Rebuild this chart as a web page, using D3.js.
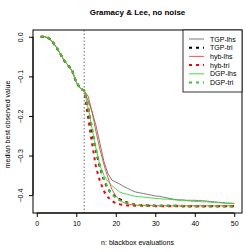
<!DOCTYPE html>
<html><head><meta charset="utf-8">
<script src="https://cdn.jsdelivr.net/npm/d3@7"></script>
<style>body{margin:0;background:#fff}svg{display:block}text{font-family:"Liberation Sans",Arial,sans-serif}</style>
</head><body><div id="chart"></div>
<script>
const n = d3.range(1, 51);
const tgpLhs = [0,0,-0.003,-0.013,-0.027,-0.044,-0.061,-0.073,-0.087,-0.115,-0.13,-0.136,
 -0.162,-0.19,-0.225,-0.27,-0.315,-0.345,-0.362,-0.367,-0.372,-0.378,-0.383,-0.388,-0.392,-0.394,-0.396,-0.398,-0.4,-0.402,
 -0.403,-0.405,-0.407,-0.409,-0.411,-0.412,-0.412,-0.413,-0.413,-0.413,-0.414,-0.414,-0.415,-0.416,-0.417,-0.418,-0.419,-0.42,-0.42,-0.421];
const tgpTri = [0,0,-0.003,-0.013,-0.027,-0.044,-0.061,-0.073,-0.087,-0.115,-0.13,-0.136,
 -0.18,-0.24,-0.29,-0.33,-0.362,-0.385,-0.396,-0.404,-0.41,-0.415,-0.419,-0.422,-0.424,-0.425,-0.425,-0.426,-0.426,-0.427,
 -0.427,-0.427,-0.427,-0.427,-0.427,-0.427,-0.428,-0.428,-0.428,-0.428,-0.428,-0.428,-0.428,-0.428,-0.428,-0.428,-0.428,-0.428,-0.428,-0.428];
const hybLhs = [0,0,-0.003,-0.013,-0.027,-0.044,-0.061,-0.073,-0.087,-0.115,-0.13,-0.136,
 -0.15,-0.19,-0.24,-0.285,-0.323,-0.355,-0.385,-0.402,-0.412,-0.419,-0.422,-0.424,-0.425,-0.426,-0.426,-0.426,-0.426,-0.427,
 -0.427,-0.427,-0.427,-0.427,-0.427,-0.427,-0.427,-0.427,-0.427,-0.427,-0.427,-0.427,-0.427,-0.427,-0.427,-0.427,-0.427,-0.427,-0.427,-0.427];
const hybTri = [0,0,-0.003,-0.013,-0.027,-0.044,-0.061,-0.073,-0.087,-0.115,-0.13,-0.136,
 -0.205,-0.27,-0.33,-0.365,-0.39,-0.405,-0.415,-0.42,-0.423,-0.425,-0.426,-0.426,-0.427,-0.427,-0.427,-0.427,-0.427,-0.428,
 -0.428,-0.428,-0.428,-0.428,-0.428,-0.428,-0.428,-0.428,-0.428,-0.428,-0.428,-0.428,-0.428,-0.428,-0.428,-0.428,-0.428,-0.428,-0.428,-0.428];
const dgpLhs = [0,0,-0.003,-0.013,-0.027,-0.044,-0.061,-0.073,-0.087,-0.115,-0.13,-0.136,
 -0.18,-0.232,-0.283,-0.325,-0.35,-0.365,-0.376,-0.384,-0.392,-0.396,-0.398,-0.401,-0.403,-0.404,-0.405,-0.406,-0.407,-0.408,
 -0.409,-0.41,-0.41,-0.411,-0.412,-0.413,-0.413,-0.414,-0.415,-0.416,-0.416,-0.417,-0.417,-0.418,-0.419,-0.419,-0.42,-0.421,-0.421,-0.422];
const dgpTri = [0,0,-0.003,-0.013,-0.027,-0.044,-0.061,-0.073,-0.087,-0.115,-0.13,-0.136,
 -0.175,-0.23,-0.285,-0.325,-0.36,-0.383,-0.398,-0.407,-0.413,-0.417,-0.42,-0.422,-0.424,-0.425,-0.426,-0.426,-0.426,-0.427,
 -0.427,-0.427,-0.427,-0.427,-0.427,-0.427,-0.427,-0.428,-0.428,-0.428,-0.428,-0.428,-0.428,-0.428,-0.428,-0.428,-0.428,-0.428,-0.428,-0.428];
const seriesNames = ["TGP-lhs","TGP-tri","hyb-lhs","hyb-tri","DGP-lhs","DGP-tri"];
const seriesValues = [tgpLhs, tgpTri, hybLhs, hybTri, dgpLhs, dgpTri];
const xTicks = [0,10,20,30,40,50];
const yTicks = [0,-0.1,-0.2,-0.3,-0.4];
const vline = 12;

const styles = [
 {color:"#6e6e6e", width:0.9, dash:null},
 {color:"#000000", width:2, dash:"3,4"},
 {color:"#ff3b3b", width:0.9, dash:null},
 {color:"#ff0000", width:2, dash:"3,4"},
 {color:"#3bd03b", width:0.9, dash:null},
 {color:"#2ecc2e", width:2, dash:"3,4"}
];

const W = 246, H = 252;
const L = 33, R = 242, T = 30, B = 213;
const svg = d3.select("#chart").append("svg").attr("width", W).attr("height", H);

const xs = d3.scaleLinear().domain([1 - 49*0.04, 50 + 49*0.04]).range([L, R]);
const yMin = -0.428, yMax = 0;
const yr = yMax - yMin;
const ys = d3.scaleLinear().domain([yMin - yr*0.04, yMax + yr*0.04]).range([B, T]);

// vertical dotted line
svg.append("line").attr("x1", xs(vline)).attr("x2", xs(vline)).attr("y1", T).attr("y2", B)
 .attr("stroke", "#444").attr("stroke-width", 0.8).attr("stroke-dasharray", "1.5,2");

const line = d3.line().x((d,i) => xs(n[i])).y(d => ys(d));
seriesValues.forEach((vals, k) => {
  const s = styles[k];
  const p = svg.append("path").datum(vals).attr("d", line).attr("fill", "none")
    .attr("stroke", s.color).attr("stroke-width", s.width);
  if (s.dash) p.attr("stroke-dasharray", s.dash);
});

// box
svg.append("rect").attr("x", L).attr("y", T).attr("width", R - L).attr("height", B - T)
 .attr("fill", "none").attr("stroke", "#000").attr("stroke-width", 1);

// axes
const xAxis = d3.axisBottom(xs).tickValues(xTicks).tickSize(4).tickFormat(d3.format("d"));
const gx = svg.append("g").attr("transform", `translate(0,${B})`).call(xAxis);
gx.select(".domain").attr("d", `M${xs(0)},0H${xs(50)}`);
gx.selectAll("text").attr("font-size", 7).attr("font-family", "Liberation Sans, Arial, sans-serif").attr("dy", "0.71em").attr("y", 8);

const yAxis = d3.axisLeft(ys).tickValues(yTicks).tickSize(4).tickFormat(d3.format(".1f"));
const gy = svg.append("g").attr("transform", `translate(${L},0)`).call(yAxis);
gy.select(".domain").attr("d", `M0,${ys(0)}V${ys(-0.4)}`);
gy.selectAll("text").attr("font-size", 7).attr("font-family", "Liberation Sans, Arial, sans-serif")
  .attr("transform", "rotate(-90)").attr("text-anchor", "middle")
  .attr("x", 0).attr("y", -10).attr("dy", "0");

// titles
svg.append("text").attr("x", (L + R)/2).attr("y", 15).attr("text-anchor", "middle")
 .attr("font-size", 8).attr("font-weight", "bold").text("Gramacy & Lee, no noise");
svg.append("text").attr("x", (L + R)/2).attr("y", 245).attr("text-anchor", "middle")
 .attr("font-size", 7).text("n: blackbox evaluations");
svg.append("text").attr("transform", `translate(10,${(T + B)/2 + 3}) rotate(-90)`).attr("text-anchor", "middle")
 .attr("font-size", 7).text("median best observed value");

// legend
const lg = svg.append("g");
lg.append("rect").attr("x", 183).attr("y", T).attr("width", R - 183).attr("height", 62)
 .attr("fill", "#fff").attr("stroke", "#000").attr("stroke-width", 0.8);
seriesNames.forEach((name, k) => {
  const s = styles[k];
  const yy = 39 + k * 8.7;
  const l = lg.append("line").attr("x1", 189).attr("x2", 204).attr("y1", yy).attr("y2", yy)
    .attr("stroke", s.color).attr("stroke-width", s.width);
  if (s.dash) l.attr("stroke-dasharray", s.dash);
  lg.append("text").attr("x", 210).attr("y", yy + 2.5).attr("font-size", 7).text(name);
});
</script></body></html>
